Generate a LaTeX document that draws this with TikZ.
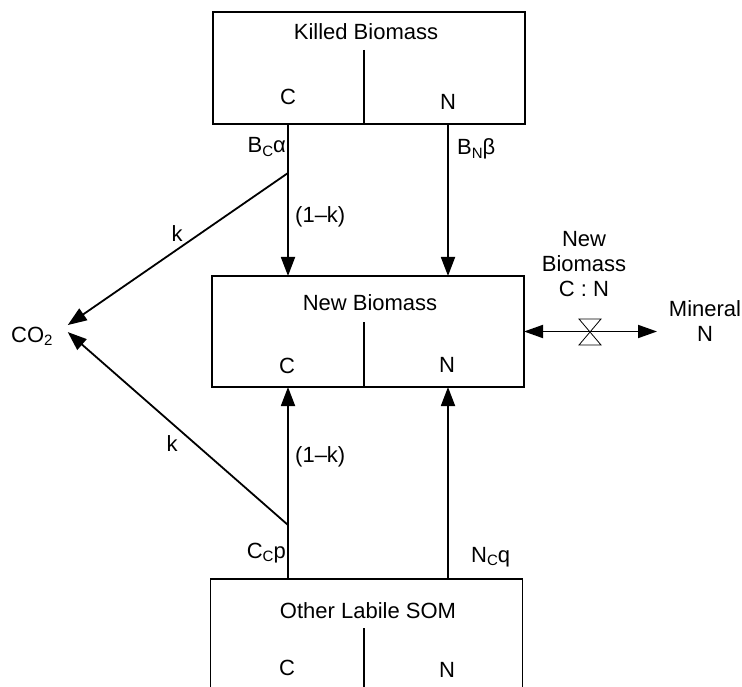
\documentclass[tikz,border=0pt]{standalone}
\usepackage{fontspec}
\setmainfont{Liberation Sans}
\usetikzlibrary{arrows.meta}
\newcommand\lsub[1]{\raisebox{-0.3ex}{\fontsize{15}{15}\selectfont #1}}
\begin{document}
\begin{tikzpicture}[x=1pt,y=-1pt,
  every node/.style={font=\fontsize{22}{25}\selectfont},
  pool/.style={draw, line width=1.8pt, minimum width=312pt, inner sep=0pt, outer sep=0pt},
  flow/.style={line width=1.8pt, -{Triangle[length=19pt,width=14pt]}},
  twoway/.style={line width=1.8pt, {Triangle[length=19pt,width=13pt]}-{Triangle[length=19pt,width=13pt]}},
  plain/.style={line width=1.8pt},
  valveline/.style={line width=0.8pt}]
\path[use as bounding box] (0,0) rectangle (742,687);
\clip (0,0) rectangle (742,687);

% pools
\node[pool, minimum height=112pt] (kb) at (369,68) {};
\node[pool, minimum height=111pt] (nb) at (368,331.5) {};
\node[pool, minimum height=130pt] (sb) at (366.5,644) {};

% dividers
\draw[plain] (364,50) -- (364,124);
\draw[plain] (364,322) -- (364,387);
\draw[plain] (364,628) -- (364,700);

% box texts
\node[anchor=base] (kbt) at (366,40) {Killed Biomass};
\node[anchor=base] (kbc) at (288,105) {C};
\node[anchor=base] (kbn) at (448,110) {N};
\node[anchor=base] (nbt) at (370,310) {New Biomass};
\node[anchor=base] (nbc) at (287,373) {C};
\node[anchor=base] (nbn) at (447,372) {N};
\node[anchor=base] (sbt) at (368,618) {Other Labile SOM};
\node[anchor=base] (sbc) at (287,675) {C};
\node[anchor=base] (sbn) at (447,677) {N};

% columns and branch points
\coordinate (cl) at (288,0);
\coordinate (cr) at (448,0);
\coordinate (bk1) at (288,173);
\coordinate (bk2) at (288,525);

% CO2
\node[anchor=base west, inner sep=0pt] (co2) at (11,342) {CO\lsub{2}};
\coordinate (co2a) at ([shift={(15,-11)}]co2.east);
\coordinate (co2b) at ([shift={(15,-4)}]co2.east);

% flows
\draw[plain] (kb.south -| cl) -- (bk1);
\draw[flow] (bk1) -- (nb.north -| cl);
\draw[flow] (kb.south -| cr) -- (nb.north -| cr);
\draw[flow] (bk1) -- (co2a);
\draw[plain] (sb.north -| cl) -- (bk2);
\draw[flow] (bk2) -- (nb.south -| cl);
\draw[flow] (sb.north -| cr) -- (nb.south -| cr);
\draw[flow] (bk2) -- (co2b);

% mineral exchange
\node[align=center] (ratio) at (584,264) {New\\Biomass\\C : N};
\node[align=center] (mineral) at (705,321.5) {Mineral\\N};
\coordinate (mtip) at (657,331.5);
\draw[twoway] (nb.east) -- (mtip);
\draw[valveline] (579,319) -- (601,319) -- (579,345) -- (601,345) -- cycle;

% flow labels
\node[anchor=base east, inner sep=1pt] (bca) at (287,153) {B\lsub{C}α};
\node[anchor=base west, inner sep=1pt] (bnb) at (456,155) {B\lsub{N}β};
\node[anchor=base west, inner sep=1pt] (omk1) at (294,223) {(1–k)};
\node[anchor=base, inner sep=1pt] (k1) at (177,242) {k};
\node[anchor=base, inner sep=1pt] (k2) at (172,451) {k};
\node[anchor=base west, inner sep=1pt] (omk2) at (294,462) {(1–k)};
\node[anchor=base east, inner sep=1pt] (ccp) at (287,558) {C\lsub{C}p};
\node[anchor=base west, inner sep=1pt] (ncq) at (470,562) {N\lsub{C}q};
\end{tikzpicture}
\end{document}
